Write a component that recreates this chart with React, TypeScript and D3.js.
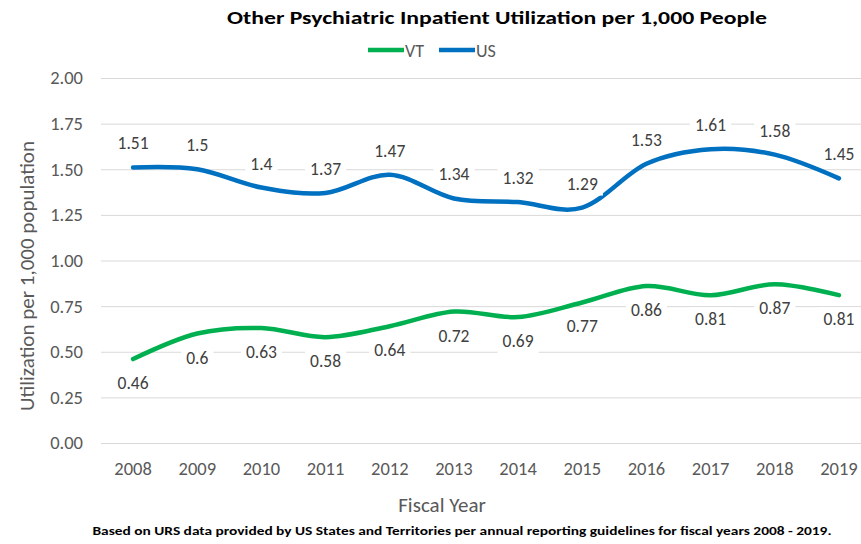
import React, { useEffect, useRef } from 'react';
import * as d3 from 'd3';

const WIDTH = 861;
const HEIGHT = 544;

const MARGIN = { top: 78, right: -10, bottom: 101, left: 101 };

const FONT = "Carlito, Calibri, Lato, 'Open Sans', sans-serif";

const years = ['2008', '2009', '2010', '2011', '2012', '2013', '2014', '2015', '2016', '2017', '2018', '2019'];
const vtValues = [0.46, 0.6, 0.63, 0.58, 0.64, 0.72, 0.69, 0.77, 0.86, 0.81, 0.87, 0.81];
const usValues = [1.51, 1.5, 1.4, 1.37, 1.47, 1.34, 1.32, 1.29, 1.53, 1.61, 1.58, 1.45];
const yTicks = [0, 0.25, 0.5, 0.75, 1, 1.25, 1.5, 1.75, 2];

const series = [
  { name: 'VT', values: vtValues, color: '#00b050', labelSide: 1 },
  { name: 'US', values: usValues, color: '#0070c0', labelSide: -1 },
];

export default function App() {
  const ref = useRef<SVGSVGElement>(null);

  useEffect(() => {
    const svg = d3.select(ref.current);
    svg.selectAll('*').remove();

    const x = d3.scaleBand()
      .domain(years)
      .range([MARGIN.left, WIDTH - MARGIN.right]);

    const y = d3.scaleLinear()
      .domain([0, 2])
      .range([HEIGHT - MARGIN.bottom, MARGIN.top]);

    const cx = (i: number) => (x(years[i]) as number) + x.bandwidth() / 2;

    // title
    svg.append('text')
      .attr('x', 497)
      .attr('y', 24)
      .attr('text-anchor', 'middle')
      .attr('font-weight', 'bold')
      .attr('font-size', 18)
      .attr('fill', '#000')
      .attr('textLength', 540)
      .attr('lengthAdjust', 'spacingAndGlyphs')
      .text('Other Psychiatric Inpatient Utilization per 1,000 People');

    // legend
    const legend = svg.append('g').attr('transform', 'translate(368, 50)');
    series.forEach((s, i) => {
      const g = legend.append('g').attr('transform', `translate(${i * 71}, 0)`);
      g.append('line')
        .attr('x1', 0).attr('x2', 36)
        .attr('stroke', s.color)
        .attr('stroke-width', 4.5);
      g.append('text')
        .attr('x', 37)
        .attr('y', 6.5)
        .attr('font-size', 18)
        .attr('fill', '#595959')
        .text(s.name);
    });

    // gridlines + y axis
    const yAxis = svg.append('g')
      .attr('transform', `translate(${MARGIN.left}, 0)`)
      .call(d3.axisLeft(y)
        .tickValues(yTicks)
        .tickFormat(d3.format('.2f'))
        .tickSize(-(WIDTH - MARGIN.right - MARGIN.left))
        .tickPadding(18)
      );
    yAxis.select('.domain').remove();
    yAxis.selectAll('.tick line').attr('stroke', '#d9d9d9').attr('stroke-width', 1);
    yAxis.selectAll('.tick text')
      .attr('font-family', FONT)
      .attr('font-size', 18.5)
      .attr('fill', '#595959');

    // x axis labels
    const xAxis = svg.append('g')
      .attr('transform', `translate(0, ${HEIGHT - MARGIN.bottom})`)
      .call(d3.axisBottom(x).tickSize(0).tickPadding(19));
    xAxis.select('.domain').remove();
    xAxis.selectAll('.tick text')
      .attr('font-family', FONT)
      .attr('font-size', 18.5)
      .attr('fill', '#595959');

    // axis titles
    svg.append('text')
      .attr('transform', 'translate(34, 276) rotate(-90)')
      .attr('text-anchor', 'middle')
      .attr('font-size', 21)
      .attr('fill', '#595959')
      .text('Utilization per 1,000 population');

    svg.append('text')
      .attr('x', 442)
      .attr('y', 512)
      .attr('text-anchor', 'middle')
      .attr('font-size', 21)
      .attr('fill', '#595959')
      .text('Fiscal Year');

    svg.append('text')
      .attr('x', 462)
      .attr('y', 535)
      .attr('text-anchor', 'middle')
      .attr('font-weight', 'bold')
      .attr('font-size', 12)
      .attr('fill', '#000')
      .attr('textLength', 739)
      .attr('lengthAdjust', 'spacingAndGlyphs')
      .text('Based on URS data provided by US States and Territories per annual reporting guidelines for fiscal years 2008 - 2019.');

    // lines
    const line = d3.line<number>()
      .x((_, i) => cx(i))
      .y(d => y(d))
      .curve(d3.curveCardinal.tension(0));

    series.forEach(s => {
      svg.append('path')
        .datum(s.values)
        .attr('d', line)
        .attr('fill', 'none')
        .attr('stroke', s.color)
        .attr('stroke-width', 4.5)
        .attr('stroke-linecap', 'round');
    });

    // data labels
    series.forEach(s => {
      s.values.forEach((v, i) => {
        const g = svg.append('g');
        const t = g.append('text')
          .attr('x', cx(i))
          .attr('y', y(v) + s.labelSide * 24 + 6)
          .attr('text-anchor', 'middle')
          .attr('font-size', 17.5)
          .attr('fill', '#404040')
          .text(String(v));
        const b = (t.node() as SVGTextElement).getBBox();
        g.insert('rect', 'text')
          .attr('x', b.x - 5)
          .attr('y', b.y - 1)
          .attr('width', b.width + 10)
          .attr('height', b.height + 2)
          .attr('fill', '#fff');
      });
    });
  }, []);

  return (
    <svg
      ref={ref}
      width={WIDTH}
      height={HEIGHT}
      style={{ display: 'block', position: 'absolute', left: 0, top: 0, background: '#fff', fontFamily: FONT }}
    />
  );
}
